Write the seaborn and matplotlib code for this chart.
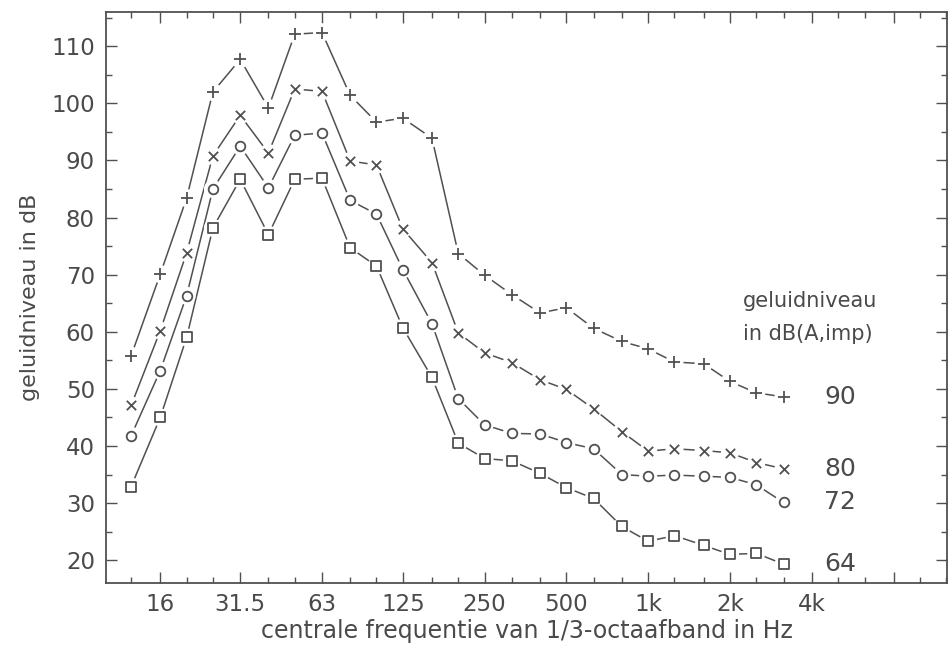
import numpy as np
import pandas as pd
import matplotlib
matplotlib.use("Agg")
import matplotlib.pyplot as plt
import seaborn as sns
from matplotlib.ticker import FixedLocator, FixedFormatter, NullFormatter

# 1/3-octave band centre frequencies (Hz)
freqs = [12.5, 16, 20, 25, 31.5, 40, 50, 63, 80, 100, 125, 160, 200,
         250, 315, 400, 500, 630, 800, 1000, 1250, 1600, 2000, 2500, 3150]

# band levels in dB for four overall levels in dB(A,imp)
level_90 = [55.8, 70.1, 83.4, 102.0, 107.7, 99.2, 112.1, 112.4, 101.4, 96.7,
            97.4, 93.9, 73.7, 69.9, 66.5, 63.3, 64.2, 60.6, 58.3, 57.0,
            54.7, 54.4, 51.3, 49.3, 48.6]
level_80 = [47.1, 60.2, 73.8, 90.8, 97.9, 91.3, 102.5, 102.1, 89.9, 89.2,
            78.0, 72.1, 59.8, 56.3, 54.6, 51.6, 49.9, 46.5, 42.5, 39.1,
            39.5, 39.2, 38.8, 37.1, 36.0]
level_72 = [41.8, 53.2, 66.3, 85.0, 92.5, 85.2, 94.4, 94.8, 83.0, 80.6,
            70.9, 61.4, 48.3, 43.7, 42.2, 42.1, 40.6, 39.5, 35.0, 34.7,
            34.9, 34.7, 34.5, 33.2, 30.1]
level_64 = [32.9, 45.0, 59.0, 78.2, 86.7, 77.0, 86.7, 86.9, 74.7, 71.5,
            60.7, 52.0, 40.5, 37.8, 37.4, 35.2, 32.7, 30.8, 25.9, 23.3,
            24.3, 22.6, 21.0, 21.2, 19.3]

series_names = ["90", "80", "72", "64"]
series_values = [level_90, level_80, level_72, level_64]
series_markers = ["+", "x", "o", "s"]

major_freqs = [16, 31.5, 63, 125, 250, 500, 1000, 2000, 4000, 8000]
major_labels = ["16", "31.5", "63", "125", "250", "500", "1k", "2k", "4k", ""]
minor_freqs = [10, 12.5, 20, 25, 40, 50, 80, 100, 160, 200, 315, 400, 630,
               800, 1250, 1600, 2500, 3150, 5000, 6300, 10000, 12500]

df = pd.DataFrame({
    "freq": np.tile(freqs, len(series_names)),
    "level": np.concatenate(series_values),
    "series": np.repeat(series_names, len(freqs)),
})

sns.set_style("ticks")
plt.rcParams["font.family"] = ["DejaVu Sans"]

ink = "#505050"
text_ink = "#4a4a4a"

fig = plt.figure(figsize=(9.49, 6.46), dpi=100)
ax = fig.add_axes([0.1117, 0.0975, 0.8863, 0.8840])

for name, marker in zip(series_names, series_markers):
    sub = df[df["series"] == name]
    sns.lineplot(data=sub, x="freq", y="level", ax=ax, color=ink,
                 lw=1.1, zorder=2, legend=False)
    # white disc behind each marker so the line stops short of it
    sns.scatterplot(data=sub, x="freq", y="level", ax=ax, marker="o",
                    s=170, color="white", edgecolor="none", linewidth=0,
                    zorder=3, legend=False)
    if marker in ("+", "x"):
        size = 80 if marker == "+" else 45
        sns.scatterplot(data=sub, x="freq", y="level", ax=ax, marker=marker,
                        s=size, color=ink, linewidth=1.3, zorder=4,
                        legend=False)
    else:
        size = 48 if marker == "o" else 62
        sns.scatterplot(data=sub, x="freq", y="level", ax=ax, marker=marker,
                        s=size, facecolor="white", edgecolor=ink,
                        linewidth=1.3, zorder=4, legend=False)
    ax.text(4450, sub["level"].iloc[-1], name, fontsize=18, color=text_ink,
            ha="left", va="center")

ax.text(2230, 65.4, "geluidniveau", fontsize=15, color=text_ink,
        ha="left", va="center")
ax.text(2230, 59.6, "in dB(A,imp)", fontsize=15, color=text_ink,
        ha="left", va="center")

ax.set_xscale("log", base=2)
ax.set_xlim(10.1, 12600)
ax.set_ylim(16, 116)

ax.xaxis.set_major_locator(FixedLocator(major_freqs))
ax.xaxis.set_major_formatter(FixedFormatter(major_labels))
ax.xaxis.set_minor_locator(FixedLocator(minor_freqs))
ax.xaxis.set_minor_formatter(NullFormatter())
ax.set_yticks(np.arange(20, 111, 10))
ax.set_yticks(np.arange(20, 116, 5), minor=True)

ax.tick_params(which="both", direction="in", top=True, right=True,
               color=ink, width=1.0, labelcolor=text_ink, labelsize=16.5)
ax.tick_params(which="major", length=8)
ax.tick_params(which="minor", length=4)
ax.tick_params(axis="x", which="major", pad=7)
ax.tick_params(axis="y", which="major", pad=8)

for spine in ax.spines.values():
    spine.set_color(ink)
    spine.set_linewidth(1.3)

ax.set_xlabel("centrale frequentie van 1/3-octaafband in Hz", fontsize=17,
              color=text_ink, labelpad=2)
ax.set_ylabel("geluidniveau in dB", fontsize=16, color=text_ink, labelpad=8)

fig.savefig("out.png", dpi=100)
